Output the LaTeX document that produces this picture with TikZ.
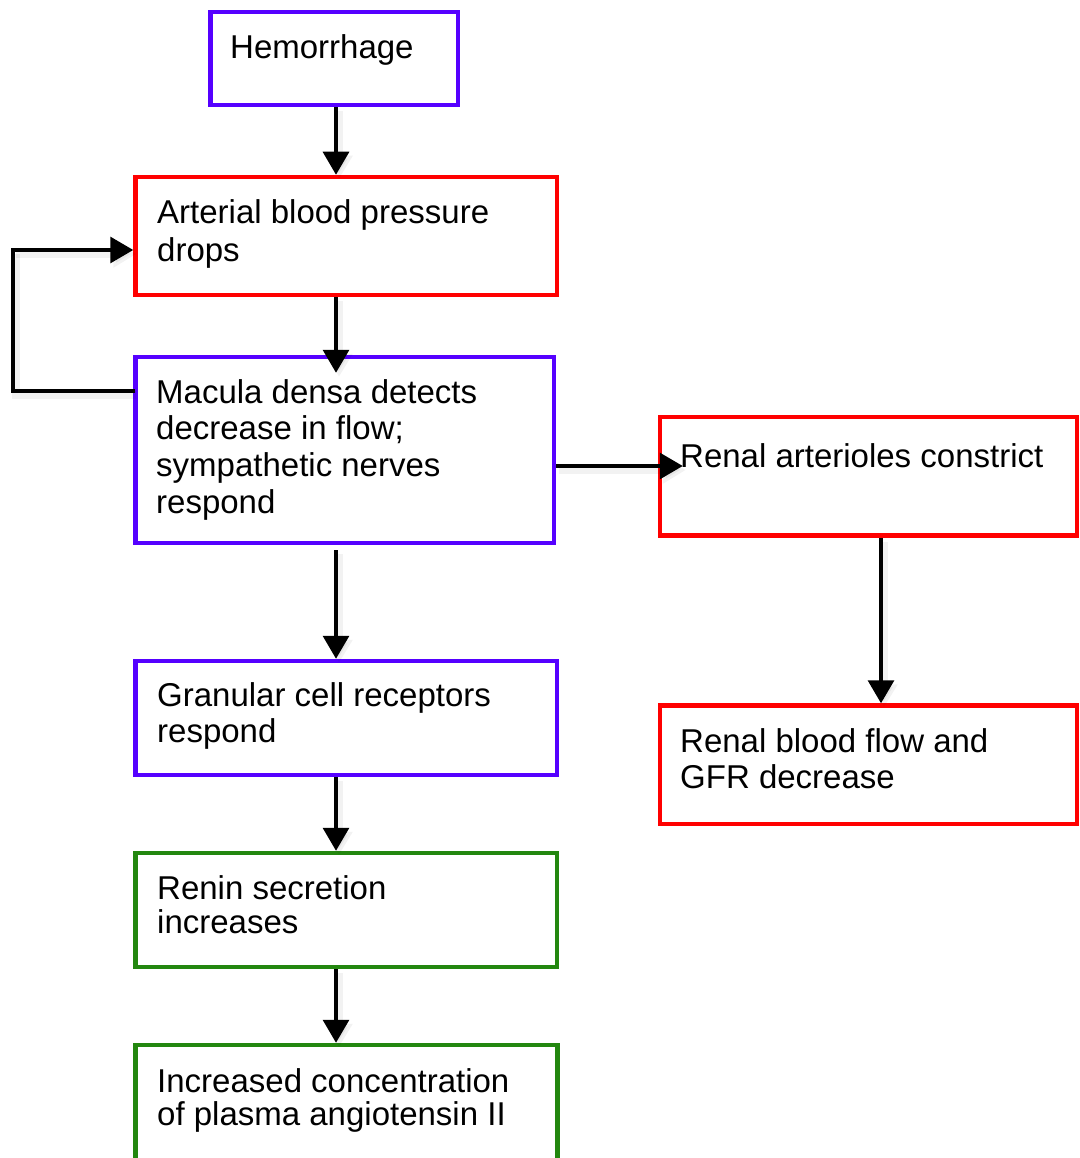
\documentclass[tikz,border=0pt]{standalone}
\usepackage{fontspec}
\setmainfont{Liberation Sans}
\usetikzlibrary{arrows.meta,calc}
\definecolor{bpurple}{RGB}{85,0,255}
\definecolor{bred}{RGB}{255,0,0}
\definecolor{bgreen}{RGB}{35,135,15}
\tikzset{
  boxnode/.style={draw, line width=4.5pt, inner sep=0pt, fill=white},
  txt/.style={anchor=base west, inner sep=0pt, font=\fontsize{33}{36}\selectfont},
  shadowline/.style={preaction={draw=black, opacity=0.05, line width=8pt, transform canvas={shift={(3pt,-4pt)}}}},
  arr/.style={draw=black, line width=3.2pt, -{Triangle[length=23pt,width=26pt]}, shadowline},
  plain/.style={draw=black, line width=3.2pt, shadowline}
}
\newcommand{\twolines}[3]{\vtop{\baselineskip=#1\lineskiplimit=-100pt\hbox{#2}\hbox{#3}}}
\begin{document}
\begin{tikzpicture}[x=1pt,y=-1pt]
\useasboundingbox (0,0) rectangle (1079,1158);
\fill[white] (0,0) rectangle (1079,1158);

% boxes
\node[boxnode, draw=bpurple, minimum width=247.5pt, minimum height=93pt] (hem) at (334.25,58.5) {};
\node[boxnode, draw=bred, minimum width=421.5pt, minimum height=118pt] (art) at (346.25,236) {};
\node[boxnode, draw=bpurple, minimum width=418.5pt, minimum height=186pt] (mac) at (344.75,450) {};
\node[boxnode, draw=bpurple, minimum width=421.5pt, minimum height=114pt] (gran) at (346.25,718) {};
\node[boxnode, draw=bgreen, minimum width=421.5pt, minimum height=114pt] (ren) at (346.25,910) {};
\node[boxnode, draw=bgreen, minimum width=422pt, minimum height=130pt] (inc) at (346.5,1110) {};
\node[boxnode, draw=bred, minimum width=417pt, minimum height=118.5pt] (ra) at (868.5,476.25) {};
\node[boxnode, draw=bred, minimum width=417pt, minimum height=118.5pt] (rbf) at (868.5,764.75) {};

% texts
\node[txt] (them) at (230,59) {Hemorrhage};
\node[txt] (tart) at (157,224) {\twolines{38pt}{Arterial blood pressure}{drops}};
\node[txt] (tmac) at (156,403) {\vtop{\baselineskip=36.7pt\lineskiplimit=-100pt
  \hbox{Macula densa detects}\hbox{decrease in flow;}\hbox{sympathetic nerves}\hbox{respond}}};
\node[txt] (tgran) at (157,706) {\twolines{36pt}{Granular cell receptors}{respond}};
\node[txt] (tren) at (157,899) {\twolines{34pt}{Renin secretion}{increases}};
\node[txt] (tinc) at (157,1092) {\twolines{33.5pt}{Increased concentration}{of plasma angiotensin II}};
\node[txt] (tra) at (680,467) {Renal arterioles constrict};
\node[txt] (trbf) at (680,752) {\twolines{36pt}{Renal blood flow and}{GFR decrease}};

% helper coordinates
\coordinate (cx) at (336,0);
\coordinate (rx) at (881,0);
\coordinate (lx) at (13,0);
\coordinate (ly1) at (0,250);
\coordinate (ly2) at (0,391);
\coordinate (my) at (0,466);
\coordinate (loopA) at (lx |- ly2);
\coordinate (loopB) at (lx |- ly1);

% connectors
\draw[arr] (hem.south -| cx) -- (art.north -| cx);
\draw[arr, shorten >=-18pt] (art.south -| cx) -- (mac.north -| cx);
\draw[arr] ([yshift=-5pt]mac.south -| cx) -- (gran.north -| cx);
\draw[arr] (gran.south -| cx) -- (ren.north -| cx);
\draw[arr] (ren.south -| cx) -- (inc.north -| cx);
\draw[arr, shorten >=-25pt] (mac.east |- my) -- (ra.west |- my);
\draw[arr] (ra.south -| rx) -- (rbf.north -| rx);
\draw[plain, line cap=rect] (mac.west |- ly2) -- (loopA) -- (loopB);
\draw[arr] (loopB) -- (art.west |- ly1);
\end{tikzpicture}
\end{document}
